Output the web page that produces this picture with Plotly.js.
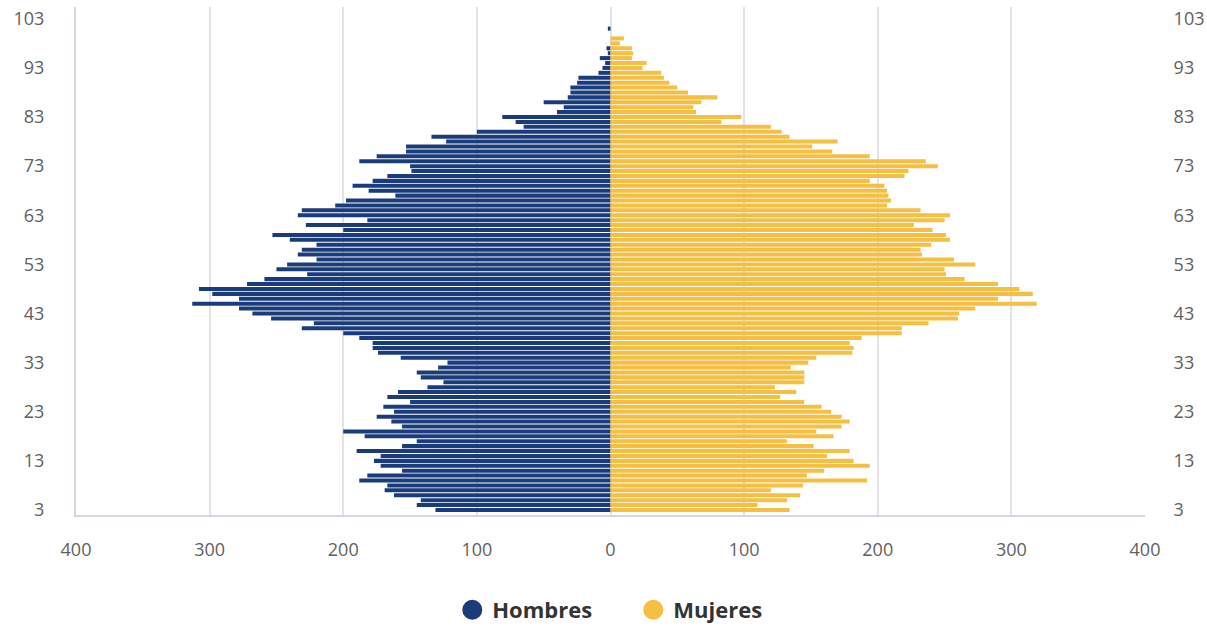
<!DOCTYPE html>
<html>
<head>
<meta charset="utf-8">
<script src="https://cdn.plot.ly/plotly-3.0.1.min.js"></script>
<style>
html,body{margin:0;padding:0;background:#fff;}
#chart{width:1207px;height:627px;}
</style>
</head>
<body>
<div id="chart"></div>
<script>
// Ages 3..103
const ages = [];
for (let a = 3; a <= 103; a++) ages.push(a);

// Hombres (men), ages 3..103
const hombres = [
  131,145,142,162,169,167,188,182,156,172,
  177,172,190,156,145,184,200,156,164,175,
  162,170,150,167,159,137,125,142,145,129,
  122,157,174,178,178,188,200,231,222,254,
  268,278,313,278,298,308,272,259,227,250,
  242,220,234,231,220,240,253,200,228,182,
  234,231,206,198,161,181,193,178,167,149,
  150,188,175,153,153,123,134,100,65,71,
  81,40,35,50,32,30,30,25,24,9,
  6,4,8,2,3,0,0,0,2,0,0
];

// Mujeres (women), ages 3..103
const mujeres = [
  134,110,132,142,120,144,192,147,160,194,
  182,162,179,152,132,167,154,173,179,173,
  165,158,145,127,139,123,145,145,145,135,
  148,154,181,182,179,188,218,218,238,260,
  261,273,319,290,316,306,290,265,251,250,
  273,257,233,232,240,254,251,241,227,250,
  254,232,207,210,208,207,205,194,220,223,
  245,236,194,166,151,170,134,128,120,83,
  98,64,62,68,80,58,50,44,40,38,
  24,27,16,17,16,7,10,0,0,0,0
];

const ageTicks = [3,13,23,33,43,53,63,73,83,93,103];
const xTickVals = [-400,-300,-200,-100,0,100,200,300,400];
const xTickText = ['400','300','200','100','0','100','200','300','400'];

const colH = '#1b3c7b';
const colM = '#f4bf43';

const traces = [
  {
    type: 'bar', orientation: 'h', name: 'Hombres',
    y: ages, x: hombres.map(v => -v),
    marker: {color: colH}, showlegend: false, hoverinfo: 'skip'
  },
  {
    type: 'bar', orientation: 'h', name: 'Mujeres',
    y: ages, x: mujeres, yaxis: 'y2',
    marker: {color: colM}, showlegend: false, hoverinfo: 'skip'
  },
  {
    type: 'scatter', mode: 'markers', name: 'Hombres',
    x: [null], y: [null],
    marker: {color: colH, size: 16, symbol: 'circle', line: {color: colH, width: 4}}
  },
  {
    type: 'scatter', mode: 'markers', name: 'Mujeres',
    x: [null], y: [null],
    marker: {color: colM, size: 16, symbol: 'circle', line: {color: colM, width: 4}}
  }
];

const yRange = [1.98, 105.4];
const tickFont = {family: 'Open Sans, sans-serif', size: 18, color: '#5f5f5f'};

const layout = {
  width: 1207, height: 627,
  margin: {l: 76, r: 62, t: 7, b: 112, autoexpand: false},
  paper_bgcolor: '#ffffff', plot_bgcolor: '#ffffff',
  barmode: 'overlay',
  bargap: 0.18,
  font: {family: 'Open Sans, sans-serif'},
  xaxis: {
    range: [-400, 400],
    tickvals: xTickVals, ticktext: xTickText,
    tickfont: tickFont,
    showgrid: true, gridcolor: '#e2e2e8', gridwidth: 2,
    zeroline: false,
    showline: true, linecolor: '#d5d5e4', linewidth: 2,
    ticks: 'outside', ticklen: 17, tickcolor: 'rgba(0,0,0,0)',
    fixedrange: true
  },
  yaxis: {
    range: yRange,
    tickvals: ageTicks, ticktext: ageTicks.map(String),
    tickfont: tickFont,
    showgrid: false, zeroline: false,
    showline: true, linecolor: '#d5d5e4', linewidth: 2,
    ticks: 'outside', ticklen: 26, tickcolor: 'rgba(0,0,0,0)',
    fixedrange: true
  },
  yaxis2: {
    range: yRange, overlaying: 'y', side: 'right',
    tickvals: ageTicks, ticktext: ageTicks.map(String),
    tickfont: tickFont,
    showgrid: false, zeroline: false, showline: false,
    ticks: 'outside', ticklen: 24, tickcolor: 'rgba(0,0,0,0)',
    fixedrange: true
  },
  showlegend: true,
  legend: {
    orientation: 'h',
    x: 0.352, xanchor: 'left', xref: 'paper',
    y: -0.187, yanchor: 'middle', yref: 'paper',
    font: {family: 'Open Sans, sans-serif', size: 22, color: '#333333', weight: 'bold'},
    entrywidth: 136, entrywidthmode: 'pixels',
    itemwidth: 30, tracegroupgap: 0
  }
};

Plotly.newPlot('chart', traces, layout, {displayModeBar: false, staticPlot: true});
</script>
</body>
</html>
